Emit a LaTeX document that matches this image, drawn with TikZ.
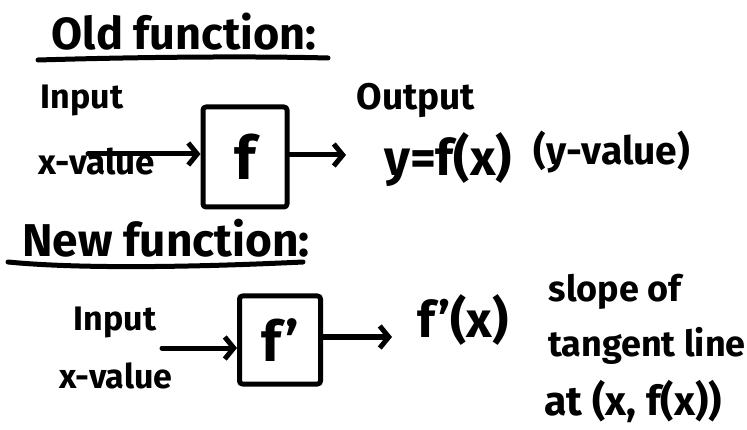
\documentclass[tikz,border=0pt]{standalone}
\usepackage{fontspec}
\setmainfont{Fira Sans}
\usetikzlibrary{arrows.meta}
\begin{document}
\begin{tikzpicture}[x=1pt,y=-1pt,
  hand/.style={font=\fontsize{#1}{#1}\selectfont\bfseries, inner sep=0pt, text=black},
  hand/.default=34,
  ln/.style={line width=5pt, line cap=round, line join=round, black},
  arr/.style={ln, -{Straight Barb[length=9pt,width=22pt]}},
  fbox/.style={ln, draw, rounded corners=3pt, inner sep=0pt}
]
\useasboundingbox (0,0) rectangle (747,430);
% Old function
\node[hand=45] (title1) at (184,32) {Old function:};
\draw[ln] (38,60) .. controls (140,57) and (250,56) .. (328,58);
\node[hand=34] (in1) at (82,100) {Input};
\node[hand=35] (xv1) at (97,162) {x-value};
\node[fbox, minimum width=84pt, minimum height=100pt, hand=60] (f1) at (245,157) {f};
\coordinate (s1) at (88,154);
\draw[arr] (s1) -- (s1 -| f1.west);
\coordinate (e1) at (346,155);
\draw[arr] (f1.east |- e1) -- (e1);
\node[hand=37] (out1) at (416,100) {Output};
\node[hand=50] (y1) at (448,160) {y=f(x)};
\node[hand=39] (yv1) at (612,152) {(y-value)};
% New function
\node[hand=46] (title2) at (166,238) {New function:};
\draw[ln] (8,262) .. controls (90,270) and (220,266) .. (303,262);
\node[hand=34] (in2) at (115,322) {Input};
\node[hand=34] (xv2) at (116,376) {x-value};
\node[fbox, minimum width=81pt, minimum height=88pt, hand=56] (f2) at (280,340) {f'};
\coordinate (s2) at (162,348);
\draw[arr] (s2) -- (s2 -| f2.west);
\coordinate (e2) at (392,337);
\draw[arr] (f2.east |- e2) -- (e2);
\node[hand=50] (fp) at (463,320) {f'(x)};
\node[hand=36] (sl) at (615,292) {slope of};
\node[hand=36] (tl) at (647,346) {tangent line};
\node[hand=41] (at) at (633,402) {at (x, f(x))};
\end{tikzpicture}
\end{document}
